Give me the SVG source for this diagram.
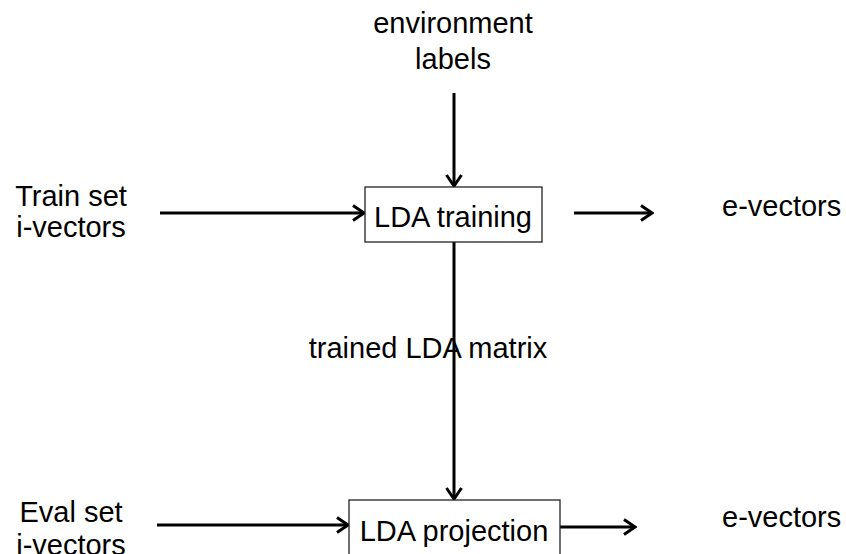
<svg xmlns="http://www.w3.org/2000/svg" width="846" height="554" viewBox="0 0 846 554">
  <style>
    .lbl { font-family: "Liberation Sans", Arial, sans-serif; font-size: 29px; fill: #000; }
    .mid { text-anchor: middle; }
    .box { fill: #fff; stroke: #222; stroke-width: 1.3; }
    .conn { stroke: #000; stroke-width: 3; fill: none; marker-end: url(#arrow); }
  </style>
  <defs>
    <marker id="arrow" markerUnits="userSpaceOnUse" viewBox="0 0 14 18" refX="12.5" refY="9" markerWidth="14" markerHeight="18" orient="auto">
      <path d="M1.5,1.5 L12.5,9 L1.5,16.5" fill="none" stroke="#000" stroke-width="3" stroke-linejoin="miter"/>
    </marker>
  </defs>
  <rect width="846" height="554" fill="#fff"/>

  <!-- connectors -->
  <g id="connectors">
    <line class="conn" x1="454" y1="93" x2="454" y2="186"/>
    <line class="conn" x1="160" y1="213" x2="364" y2="213"/>
    <line class="conn" x1="574" y1="213" x2="652" y2="213"/>
    <line class="conn" x1="454" y1="242" x2="454" y2="499"/>
    <line class="conn" x1="157" y1="525" x2="348" y2="525"/>
    <line class="conn" x1="560" y1="527" x2="635" y2="527"/>
  </g>

  <!-- input / output labels -->
  <g id="env-labels">
    <text class="lbl mid" x="453" y="33">environment</text>
    <text class="lbl mid" x="453" y="69">labels</text>
  </g>
  <g id="train-set">
    <text class="lbl mid" x="71" y="206">Train set</text>
    <text class="lbl mid" x="71" y="237">i-vectors</text>
  </g>
  <g id="eval-set">
    <text class="lbl mid" x="71" y="522">Eval set</text>
    <text class="lbl mid" x="71" y="555">i-vectors</text>
  </g>
  <g id="evectors-train">
    <text class="lbl" x="722" y="216">e-vectors</text>
  </g>
  <g id="evectors-eval">
    <text class="lbl" x="722" y="527">e-vectors</text>
  </g>

  <!-- processing blocks -->
  <g id="lda-training">
    <rect class="box" x="365" y="187" width="177" height="55"/>
    <text class="lbl mid" x="453" y="227">LDA training</text>
  </g>
  <g id="lda-projection">
    <rect class="box" x="349" y="500" width="211" height="70"/>
    <text class="lbl mid" x="454" y="541">LDA projection</text>
  </g>

  <g id="matrix-label">
    <text class="lbl mid" x="428" y="358">trained LDA matrix</text>
  </g>
</svg>
